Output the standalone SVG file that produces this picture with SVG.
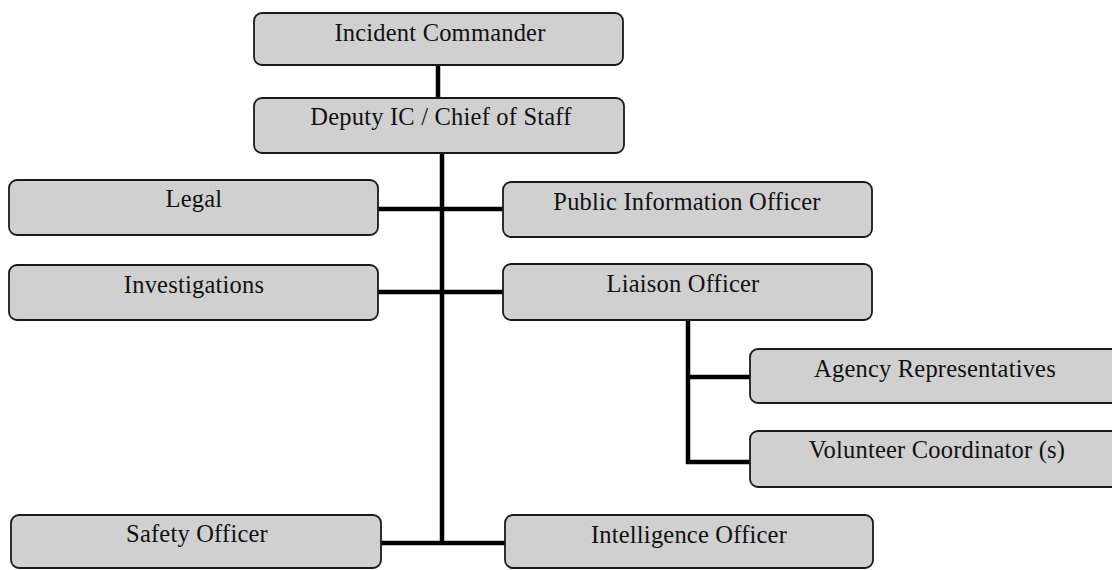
<svg xmlns="http://www.w3.org/2000/svg" width="1112" height="570" viewBox="0 0 1112 570">
  <style>
    .box { fill: #d0d0d0; stroke: #1a1a1a; stroke-width: 1.8; }
    .lbl { font-family: "Liberation Serif", "Times New Roman", serif; font-size: 24.5px; letter-spacing: 0.2px; fill: #111; text-anchor: middle; }
    .conn { stroke: #000; stroke-width: 4.5; fill: none; stroke-linecap: butt; }
  </style>
  <rect width="1112" height="570" fill="#ffffff"/>
  <g id="connectors">
    <line class="conn" x1="438" y1="65" x2="438" y2="98"/>
    <line class="conn" x1="442" y1="153" x2="442" y2="545"/>
    <line class="conn" x1="378" y1="209" x2="503" y2="209"/>
    <line class="conn" x1="378" y1="292" x2="503" y2="292"/>
    <line class="conn" x1="381" y1="543" x2="505" y2="543"/>
    <line class="conn" x1="688" y1="320" x2="688" y2="464"/>
    <line class="conn" x1="686" y1="377" x2="750" y2="377"/>
    <line class="conn" x1="686" y1="462" x2="750" y2="462"/>
  </g>
  <g id="incident-commander">
    <rect class="box" x="254" y="13" width="369" height="52" rx="8"/>
    <text class="lbl" x="440" y="41">Incident Commander</text>
  </g>
  <g id="deputy-ic">
    <rect class="box" x="254" y="98" width="370" height="55" rx="8"/>
    <text class="lbl" x="441" y="125">Deputy IC / Chief of Staff</text>
  </g>
  <g id="legal">
    <rect class="box" x="9" y="180" width="369" height="55" rx="8"/>
    <text class="lbl" x="194" y="207">Legal</text>
  </g>
  <g id="public-information-officer">
    <rect class="box" x="503" y="182" width="369" height="55" rx="8"/>
    <text class="lbl" x="687" y="210">Public Information Officer</text>
  </g>
  <g id="investigations">
    <rect class="box" x="9" y="265" width="369" height="55" rx="8"/>
    <text class="lbl" x="194" y="293">Investigations</text>
  </g>
  <g id="liaison-officer">
    <rect class="box" x="503" y="264" width="369" height="56" rx="8"/>
    <text class="lbl" x="683" y="292">Liaison Officer</text>
  </g>
  <g id="agency-representatives">
    <rect class="box" x="750" y="349" width="372" height="54" rx="8"/>
    <text class="lbl" x="935" y="377">Agency Representatives</text>
  </g>
  <g id="volunteer-coordinators">
    <rect class="box" x="750" y="431" width="372" height="56" rx="8"/>
    <text class="lbl" x="937" y="458">Volunteer Coordinator (s)</text>
  </g>
  <g id="safety-officer">
    <rect class="box" x="11" y="515" width="370" height="53" rx="8"/>
    <text class="lbl" x="197" y="542">Safety Officer</text>
  </g>
  <g id="intelligence-officer">
    <rect class="box" x="505" y="515" width="368" height="53" rx="8"/>
    <text class="lbl" x="689" y="543">Intelligence Officer</text>
  </g>
</svg>
